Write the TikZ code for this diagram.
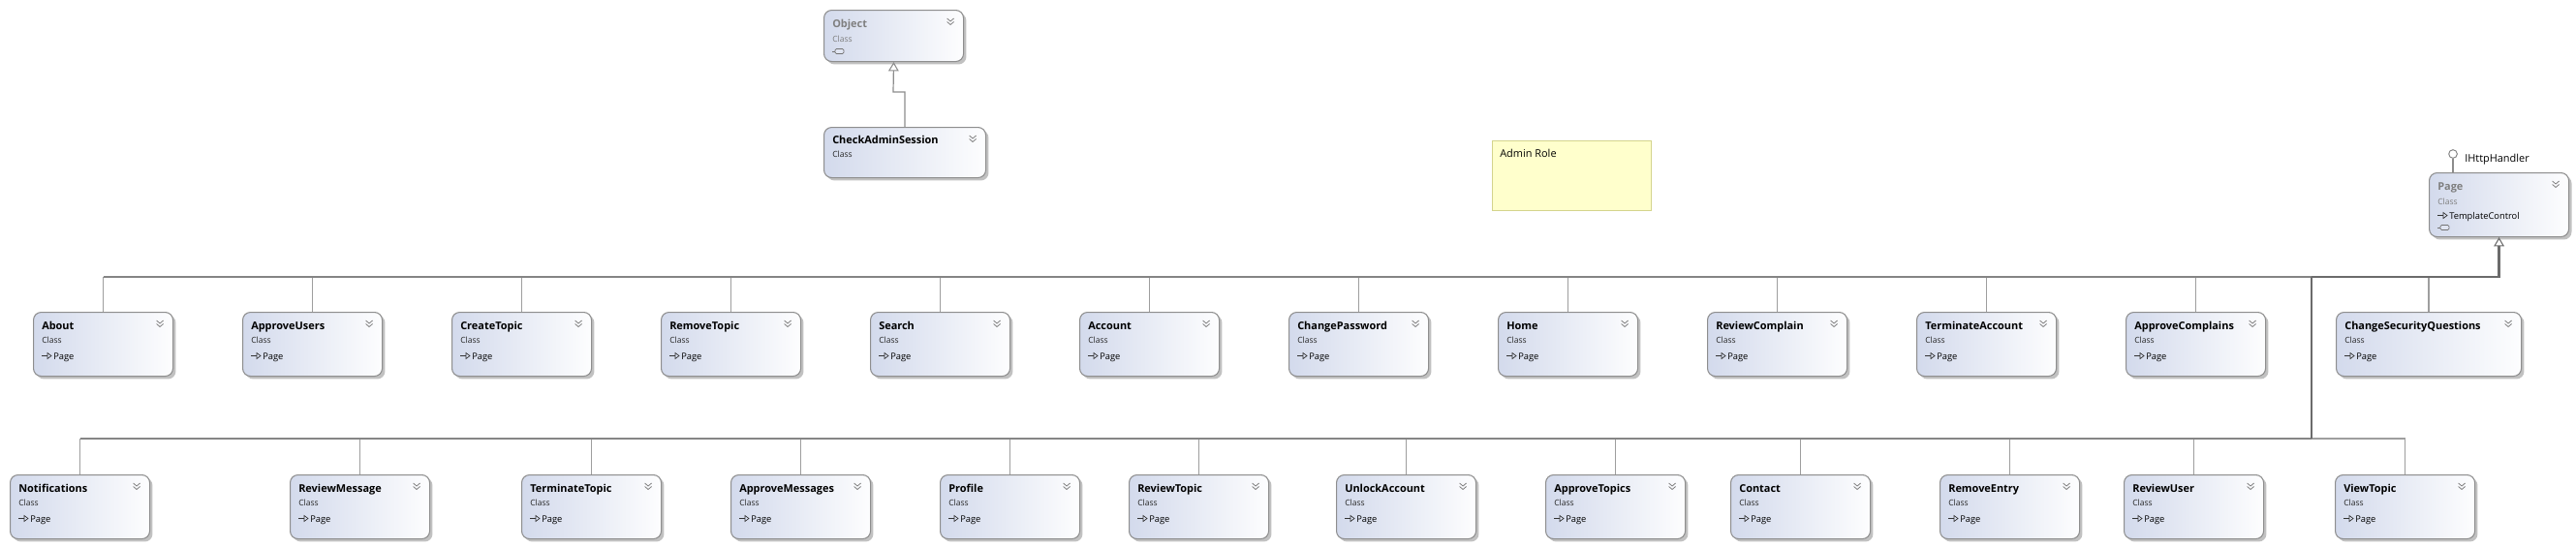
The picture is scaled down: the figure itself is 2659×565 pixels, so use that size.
\documentclass[tikz,border=0pt]{standalone}
\usepackage{fontspec}
\setmainfont{Open Sans}
\usetikzlibrary{arrows.meta,shadows,calc}
\definecolor{boxblue}{HTML}{D3DAEC}
\definecolor{boxborder}{HTML}{8E8E8E}
\definecolor{notefill}{HTML}{FFFFCC}
\definecolor{noteborder}{HTML}{D4D48C}
\definecolor{ghost}{HTML}{7F7F7F}
\tikzset{
 clsbox/.style={draw=boxborder, line width=0.8pt, rounded corners=6pt, left color=boxblue, right color=white!96!boxblue, drop shadow={shadow xshift=2.2pt, shadow yshift=-2.2pt, fill=black!30, opacity=0.8}, inner sep=0pt, anchor=north west},
 ttl/.style={font=\bfseries\fontsize{8.2}{9}\selectfont, inner sep=0pt, anchor=base west},
 kind/.style={font=\fontsize{6.4}{7}\selectfont, text=black!85, inner sep=0pt, anchor=base west},
 member/.style={font=\fontsize{7}{8}\selectfont, inner sep=0pt, anchor=base west},
 lbl/.style={font=\fontsize{8.2}{9}\selectfont, inner sep=0pt, anchor=base west},
 chev/.style={draw=black!50, line width=0.6pt},
 icon/.style={draw=black!80, line width=0.5pt},
 bus/.style={draw=black!48, line width=1.6pt},
 trunk/.style={draw=black!58, line width=2.2pt},
 drop/.style={draw=black!38, line width=0.9pt},
 conn/.style={draw=black!45, line width=0.9pt},
 inh/.style={-{Triangle[open, length=7pt, width=8pt, line width=0.8pt]}},
}
\newcommand\chevron[1]{%
 \draw[chev] ([shift={(-17.5,9)}]#1.north east) -- ++(3.5,3) -- ++(3.5,-3);
 \draw[chev] ([shift={(-17.5,12.5)}]#1.north east) -- ++(3.5,3) -- ++(3.5,-3);}
\newcommand\inhicon[2]{% node, y offset of baseline
 \draw[icon] ([shift={(9,#2-3.5)}]#1.north west) -- ++(6,0);
 \draw[icon] ([shift={(15,#2-6.5)}]#1.north west) -- ++(4,3) -- ++(-4,3) -- cycle;}
\newcommand\collapseicon[2]{%
 \draw[icon, draw=black!55] ([shift={(9,#2)}]#1.north west) -- ++(3,0);
 \draw[icon, draw=black!55, fill=boxblue!70, rounded corners=1pt] ([shift={(12,#2-2.5)}]#1.north west) rectangle ++(9,5);}
\newcommand\clsnode[5]{% name, x, y, width, title
 \node[clsbox, minimum width=#4, minimum height=49.5pt] (#1) at (#2,#3) {};
 \node[ttl] (#1-t) at ([shift={(9,18.7)}]#1.north west) {#5};
 \node[kind] (#1-k) at ([shift={(9,32)}]#1.north west) {Class};
 \node[member] (#1-m) at ([shift={(21,49)}]#1.north west) {Page};
 \inhicon{#1}{49}
 \chevron{#1}}
\begin{document}
\begin{tikzpicture}[x=0.75pt,y=-0.75pt]
\useasboundingbox (0,0) rectangle (2659,565);
% Object and CheckAdminSession
\node[clsbox, minimum width=108pt, minimum height=39.75pt] (object) at (850,10) {};
\node[ttl, text=ghost] (object-t) at ([shift={(9,18)}]object.north west) {Object};
\node[kind, text=ghost] (object-k) at ([shift={(9,33)}]object.north west) {Class};
\collapseicon{object}{43}
\chevron{object}
\node[clsbox, minimum width=125.25pt, minimum height=39pt] (check) at (850,131) {};
\node[ttl] (check-t) at ([shift={(9,17.5)}]check.north west) {CheckAdminSession};
\node[kind] (check-k) at ([shift={(9,31)}]check.north west) {Class};
\chevron{check}
\coordinate (ob1) at (922,95);
\draw[conn, inh] (check.north) |- (ob1) -- (object.south);
% note
\node[draw=noteborder, fill=notefill, line width=0.8pt, minimum width=123pt, minimum height=54pt, inner sep=0pt, anchor=north west] (note) at (1540,145) {};
\node[lbl] (note-t) at ([shift={(8,17.5)}]note.north west) {Admin Role};
% Page
\node[clsbox, minimum width=108pt, minimum height=49.5pt] (page) at (2507,178) {};
\node[ttl, text=ghost] (page-t) at ([shift={(9,18)}]page.north west) {Page};
\node[kind, text=ghost] (page-k) at ([shift={(9,33)}]page.north west) {Class};
\node[member] (page-m) at ([shift={(21,48)}]page.north west) {TemplateControl};
\inhicon{page}{48}
\collapseicon{page}{57}
\chevron{page}
\node[circle, draw=black!50, fill=white, line width=0.7pt, minimum size=6.5pt, inner sep=0pt] (ihttp) at (2532,159) {};
\node[lbl] (ihttp-t) at (2544,167) {IHttpHandler};
\draw[conn] (ihttp) -- (ihttp |- page.north);
% row 1
\clsnode{about}{34}{322}{108pt}{About}
\clsnode{approveusers}{250}{322}{108pt}{ApproveUsers}
\clsnode{createtopic}{466}{322}{108pt}{CreateTopic}
\clsnode{removetopic}{682}{322}{108pt}{RemoveTopic}
\clsnode{search}{898}{322}{108pt}{Search}
\clsnode{account}{1114}{322}{108pt}{Account}
\clsnode{changepassword}{1330}{322}{108pt}{ChangePassword}
\clsnode{home}{1546}{322}{108pt}{Home}
\clsnode{reviewcomplain}{1762}{322}{108pt}{ReviewComplain}
\clsnode{terminateaccount}{1978}{322}{108pt}{TerminateAccount}
\clsnode{approvecomplains}{2194}{322}{108pt}{ApproveComplains}
\clsnode{csq}{2411}{322}{143.25pt}{ChangeSecurityQuestions}
% row 2
\clsnode{notifications}{10}{490}{108pt}{Notifications}
\clsnode{reviewmessage}{299}{490}{108pt}{ReviewMessage}
\clsnode{terminatetopic}{538}{490}{108pt}{TerminateTopic}
\clsnode{approvemessages}{754}{490}{108pt}{ApproveMessages}
\clsnode{profile}{970}{490}{108pt}{Profile}
\clsnode{reviewtopic}{1165}{490}{108pt}{ReviewTopic}
\clsnode{unlockaccount}{1379}{490}{108pt}{UnlockAccount}
\clsnode{approvetopics}{1595}{490}{108pt}{ApproveTopics}
\clsnode{contact}{1786}{490}{108pt}{Contact}
\clsnode{removeentry}{2002}{490}{108pt}{RemoveEntry}
\clsnode{reviewuser}{2192}{490}{108pt}{ReviewUser}
\clsnode{viewtopic}{2410}{490}{108pt}{ViewTopic}
% connectors
\coordinate (j1) at (2386,286);
\coordinate (j2) at (2386,453);
\foreach \n in {about,approveusers,createtopic,removetopic,search,account,changepassword,home,reviewcomplain,terminateaccount,approvecomplains,csq}
  \draw[drop] (\n.north) -- (\n.north |- j1);
\foreach \n in {notifications,reviewmessage,terminatetopic,approvemessages,profile,reviewtopic,unlockaccount,approvetopics,contact,removeentry,reviewuser,viewtopic}
  \draw[drop] (\n.north) -- (\n.north |- j2);
\draw[bus] (about.north |- j1) -- (j1);
\draw[bus] (notifications.north |- j2) -- (j2);
\draw[drop] (j2) -- (viewtopic.north |- j2);
\draw[trunk] (j1) -- (j2);
\draw[trunk, inh] (j1) -| (page.south);
\end{tikzpicture}
\end{document}
